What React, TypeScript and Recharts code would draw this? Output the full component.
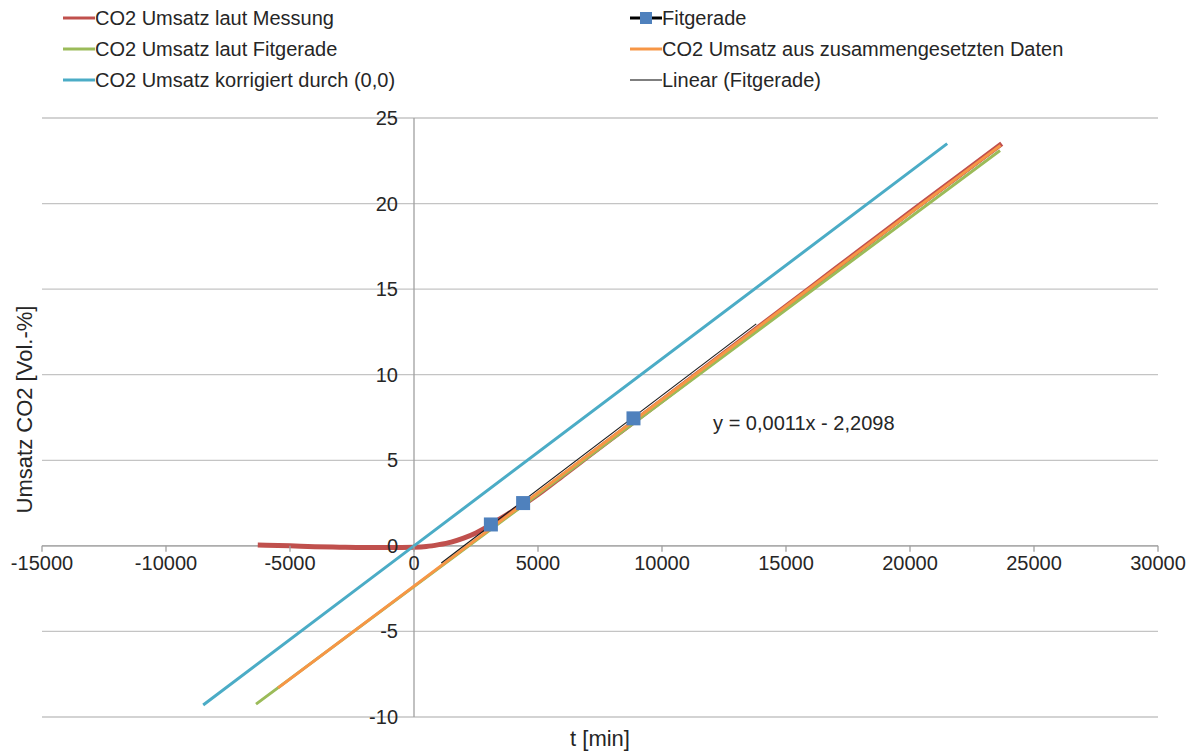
import React from "react";
import {
  ComposedChart,
  Line,
  Scatter,
  XAxis,
  YAxis,
  CartesianGrid,
  ReferenceLine,
  ReferenceDot,
} from "recharts";

// Umsatz laut Messung (rot)
const tMessung = [-6300, -5000, -4000, -3000, -2000, -1000, 0, 500, 1000, 1500, 2000, 2500, 3000, 3500, 4000, 4500, 5000, 6000, 7000, 8000, 9000, 10000, 12000, 14000, 16000, 18000, 20000, 22000, 23700];
const yMessung = [0.05, 0.0, -0.05, -0.08, -0.1, -0.1, -0.08, -0.04, 0.07, 0.22, 0.45, 0.75, 1.15, 1.6, 2.05, 2.5, 3.0, 4.1, 5.2, 6.3, 7.4, 8.5, 10.7, 12.9, 15.1, 17.3, 19.5, 21.65, 23.5];

// Umsatz laut Fitgerade (grün)
const tFitUmsatz = [-6370, 10000, 23630];
const yFitUmsatz = [-9.25, 8.4, 23.1];

// zusammengesetzte Daten (orange)
const tZusammen = [-5480, 0, 5000, 10000, 15000, 20000, 23650];
const yZusammen = [-8.3, -2.35, 3.1, 8.55, 14.0, 19.45, 23.4];

// korrigiert durch (0,0) (türkis)
const tKorr = [-8500, 0, 21500];
const yKorr = [-9.3, 0, 23.5];

// Stützpunkte der Fitgerade
const tFitPunkte = [3100, 4400, 8850];
const yFitPunkte = [1.25, 2.5, 7.45];

// lineare Trendlinie y = 0,0011x - 2,2098
const trendSlope = 0.0011;
const trendIntercept = -2.2098;
const trendRange = [1100, 13800];

const xTicks = [-15000, -10000, -5000, 0, 5000, 10000, 15000, 20000, 25000, 30000];
const yTicks = [-10, -5, 0, 5, 10, 15, 20, 25];

const X_MIN = -15000;
const X_MAX = 30000;
const Y_MIN = -10;
const Y_MAX = 25;

const W = 1194;
const H = 751;
const PLOT_LEFT = 42;
const PLOT_TOP = 118;
const PLOT_W = 1116;
const PLOT_H = 599;
const AXIS_H = H - PLOT_TOP - PLOT_H;

// Lage der Achsenkreuzung (0,0) in Pixeln
const ZERO_X = PLOT_LEFT + ((0 - X_MIN) / (X_MAX - X_MIN)) * PLOT_W;
const ZERO_Y = PLOT_TOP + ((Y_MAX - 0) / (Y_MAX - Y_MIN)) * PLOT_H;

const FONT = '"Liberation Sans", Arial, sans-serif';
const TEXT = "#262626";
const AXIS = "#a0a0a0";

const toPoints = (t: number[], y: number[]) => t.map((x, i) => ({ x, y: y[i] }));

const messung = toPoints(tMessung, yMessung);
const fitUmsatz = toPoints(tFitUmsatz, yFitUmsatz);
const zusammen = toPoints(tZusammen, yZusammen);
const korr = toPoints(tKorr, yKorr);
const fitPunkte = toPoints(tFitPunkte, yFitPunkte);
const trend = trendRange.map((x) => ({ x, y: trendSlope * x + trendIntercept }));

const legendItems = [
  { name: "CO2 Umsatz laut Messung", color: "#c0504d", col: 0, row: 0 },
  { name: "Fitgerade", color: "#000", col: 1, row: 0, marker: true },
  { name: "CO2 Umsatz laut Fitgerade", color: "#9bbb59", col: 0, row: 1 },
  { name: "CO2 Umsatz aus zusammengesetzten Daten", color: "#f79646", col: 1, row: 1 },
  { name: "CO2 Umsatz korrigiert durch (0,0)", color: "#4bacc6", col: 0, row: 2 },
  { name: "Linear (Fitgerade)", color: "#555", col: 1, row: 2, thin: true },
];

// Legende zweispaltig über dem Diagramm
const ChartLegend = () => (
  <div style={{ position: "absolute", left: 0, top: 0, width: W, height: 100, fontFamily: FONT }}>
    {legendItems.map((it) => {
      const left = it.col === 0 ? 63 : 630;
      const top = 18 + it.row * 31;
      return (
        <div
          key={it.name}
          style={{ position: "absolute", left, top: top - 12, height: 24, display: "flex", alignItems: "center" }}
        >
          <svg width={32} height={24}>
            <line x1={0} x2={32} y1={12} y2={12} stroke={it.color} strokeWidth={it.thin ? 1.5 : 3} />
            {it.marker && <rect x={10} y={6} width={12} height={12} fill="#4f81bd" />}
          </svg>
          <span style={{ fontSize: 20, color: TEXT, whiteSpace: "nowrap" }}>{it.name}</span>
        </div>
      );
    })}
  </div>
);

const XTick = ({ x, payload }: any) => (
  <g>
    <line x1={x} x2={x} y1={ZERO_Y} y2={ZERO_Y + 6} stroke={AXIS} strokeWidth={1.3} />
    <text x={x} y={ZERO_Y + 24} textAnchor="middle" fontSize={20} fill={TEXT} fontFamily={FONT}>
      {payload.value}
    </text>
  </g>
);

const YTick = ({ y, payload }: any) => (
  <text x={ZERO_X - 16} y={y + 7} textAnchor="end" fontSize={20} fill={TEXT} fontFamily={FONT}>
    {payload.value}
  </text>
);

const Square = (p: any) => <rect x={p.cx - 7} y={p.cy - 7} width={14} height={14} fill="#4f81bd" />;

export default function App() {
  return (
    <div style={{ position: "absolute", left: 0, top: 0, width: W, height: H, background: "#fff" }}>
      <ComposedChart
        width={W}
        height={H}
        margin={{ top: PLOT_TOP, right: W - PLOT_LEFT - PLOT_W, bottom: 0, left: 0 }}
      >
        <CartesianGrid horizontal vertical={false} stroke="#c4c4c4" strokeWidth={1.3} />
        <XAxis
          type="number"
          dataKey="x"
          domain={[X_MIN, X_MAX]}
          ticks={xTicks}
          allowDataOverflow
          height={AXIS_H}
          axisLine={false}
          tickLine={false}
          tick={<XTick />}
          label={{ value: "t [min]", position: "insideBottom", offset: 5, fontSize: 22, fill: TEXT, fontFamily: FONT }}
        />
        <YAxis
          type="number"
          dataKey="y"
          domain={[Y_MIN, Y_MAX]}
          ticks={yTicks}
          allowDataOverflow
          width={PLOT_LEFT}
          axisLine={false}
          tickLine={false}
          tick={<YTick />}
          label={{
            value: "Umsatz CO2 [Vol.-%]",
            angle: -90,
            position: "insideLeft",
            offset: 24,
            dy: -8,
            style: { textAnchor: "middle", fontSize: 22, fill: TEXT, fontFamily: FONT },
          }}
        />
        <ReferenceLine y={0} stroke={AXIS} strokeWidth={1.3} />
        <ReferenceLine x={0} stroke={AXIS} strokeWidth={1.3} />

        <Line data={messung} dataKey="y" type="monotone" stroke="#c0504d" strokeWidth={5} dot={false} isAnimationActive={false} />
        <Line data={fitUmsatz} dataKey="y" type="linear" stroke="#9bbb59" strokeWidth={3} dot={false} isAnimationActive={false} />
        <Line data={zusammen} dataKey="y" type="linear" stroke="#f79646" strokeWidth={3} dot={false} isAnimationActive={false} />
        <Line data={korr} dataKey="y" type="linear" stroke="#4bacc6" strokeWidth={3} dot={false} isAnimationActive={false} />
        <Scatter data={fitPunkte} fill="#4f81bd" shape={<Square />} isAnimationActive={false} />
        <Line data={trend} dataKey="y" type="linear" stroke="#1a1a1a" strokeWidth={1.1} dot={false} isAnimationActive={false} />

        <ReferenceDot
          x={12060}
          y={7.2}
          r={0}
          fill="none"
          stroke="none"
          label={{ value: "y = 0,0011x - 2,2098", position: "right", offset: 0, fontSize: 20, fill: TEXT, fontFamily: FONT }}
        />
      </ComposedChart>
      <ChartLegend />
    </div>
  );
}
